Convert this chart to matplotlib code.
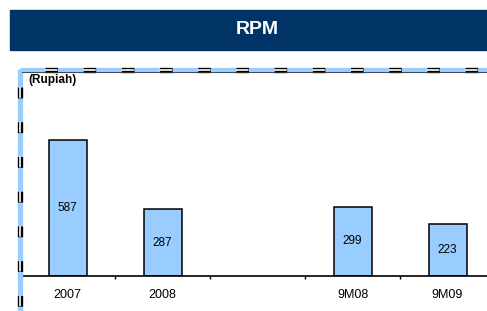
import numpy as np
import matplotlib
matplotlib.use("Agg")
import matplotlib.pyplot as plt
from matplotlib.lines import Line2D
from matplotlib.patches import Rectangle


# chart data
categories = ["2007", "2008", "", "9M08", "9M09"]
values = [587, 287, None, 299, 223]
title = "RPM"
unit_label = "(Rupiah)"

W, H = 487, 311
plt.rcParams['font.family'] = ['Liberation Sans', 'DejaVu Sans']
plt.rcParams['lines.scale_dashes'] = False

fig = plt.figure(figsize=(W / 100, H / 100), dpi=100)


def fx(px):
    return px / W


def fy(py):
    return 1 - py / H


# title banner
fig.patches.append(Rectangle((fx(10), fy(50)), fx(477), 40 / H,
                             transform=fig.transFigure, color="#003366", zorder=0))
fig.text(fx(257), fy(30), title, color="white", fontsize=14, fontweight="bold",
         ha="center", va="center")

# bar axes
ax = fig.add_axes([fx(20), 35 / H, 475 / W, 206 / H])
xs = np.arange(len(categories))
bx = [x for x, v in zip(xs, values) if v is not None]
bv = [v for v in values if v is not None]
ax.bar(bx, bv, width=0.4, color="#99CCFF", edgecolor="black", linewidth=1.1, zorder=2)
for x, v in zip(bx, bv):
    ax.text(x, v / 2, f"{v}", ha="center", va="center", fontsize=8.5)

ax.set_xlim(-0.5, len(categories) - 0.5)
ax.set_ylim(0, 889)
for s in ["left", "top", "right"]:
    ax.spines[s].set_visible(False)
ax.spines["bottom"].set_linewidth(1.2)
ax.set_yticks([])
ax.set_xticks(xs[:-1] + 0.5)
ax.set_xticklabels([])
ax.tick_params(axis="x", which="major", length=2.5, width=1, direction="out")
ax.set_xticks(xs, minor=True)
ax.set_xticklabels(categories, minor=True, fontsize=9)
ax.tick_params(axis="x", which="minor", length=0, pad=9)

fig.text(fx(28), fy(80), unit_label, fontsize=8.5, fontweight="bold", ha="left", va="center")


# dashed frame: light blue line with black double segments
def frame_line(xd, yd, offset, dash, gap):
    base = dict(transform=fig.transFigure, solid_capstyle="butt", dash_capstyle="butt")
    pattern = (offset, (dash, gap))
    fig.add_artist(Line2D(xd, yd, color="#99CCFF", lw=3.8, **base))
    fig.add_artist(Line2D(xd, yd, color="black", lw=3.8, linestyle=pattern, **base))
    fig.add_artist(Line2D(xd, yd, color="white", lw=1.2, linestyle=pattern, **base))


frame_line([fx(20), fx(487)], [fy(69.5), fy(69.5)], 9.5, 9.0, 18.5)
frame_line([fx(20), fx(20)], [fy(69), fy(311)], 12.0, 7.8, 17.2)
fig.add_artist(Line2D([fx(22), fx(487)], [fy(72), fy(72)], color="#333333", lw=0.6,
                      transform=fig.transFigure))

fig.savefig("out.png", dpi=100)
